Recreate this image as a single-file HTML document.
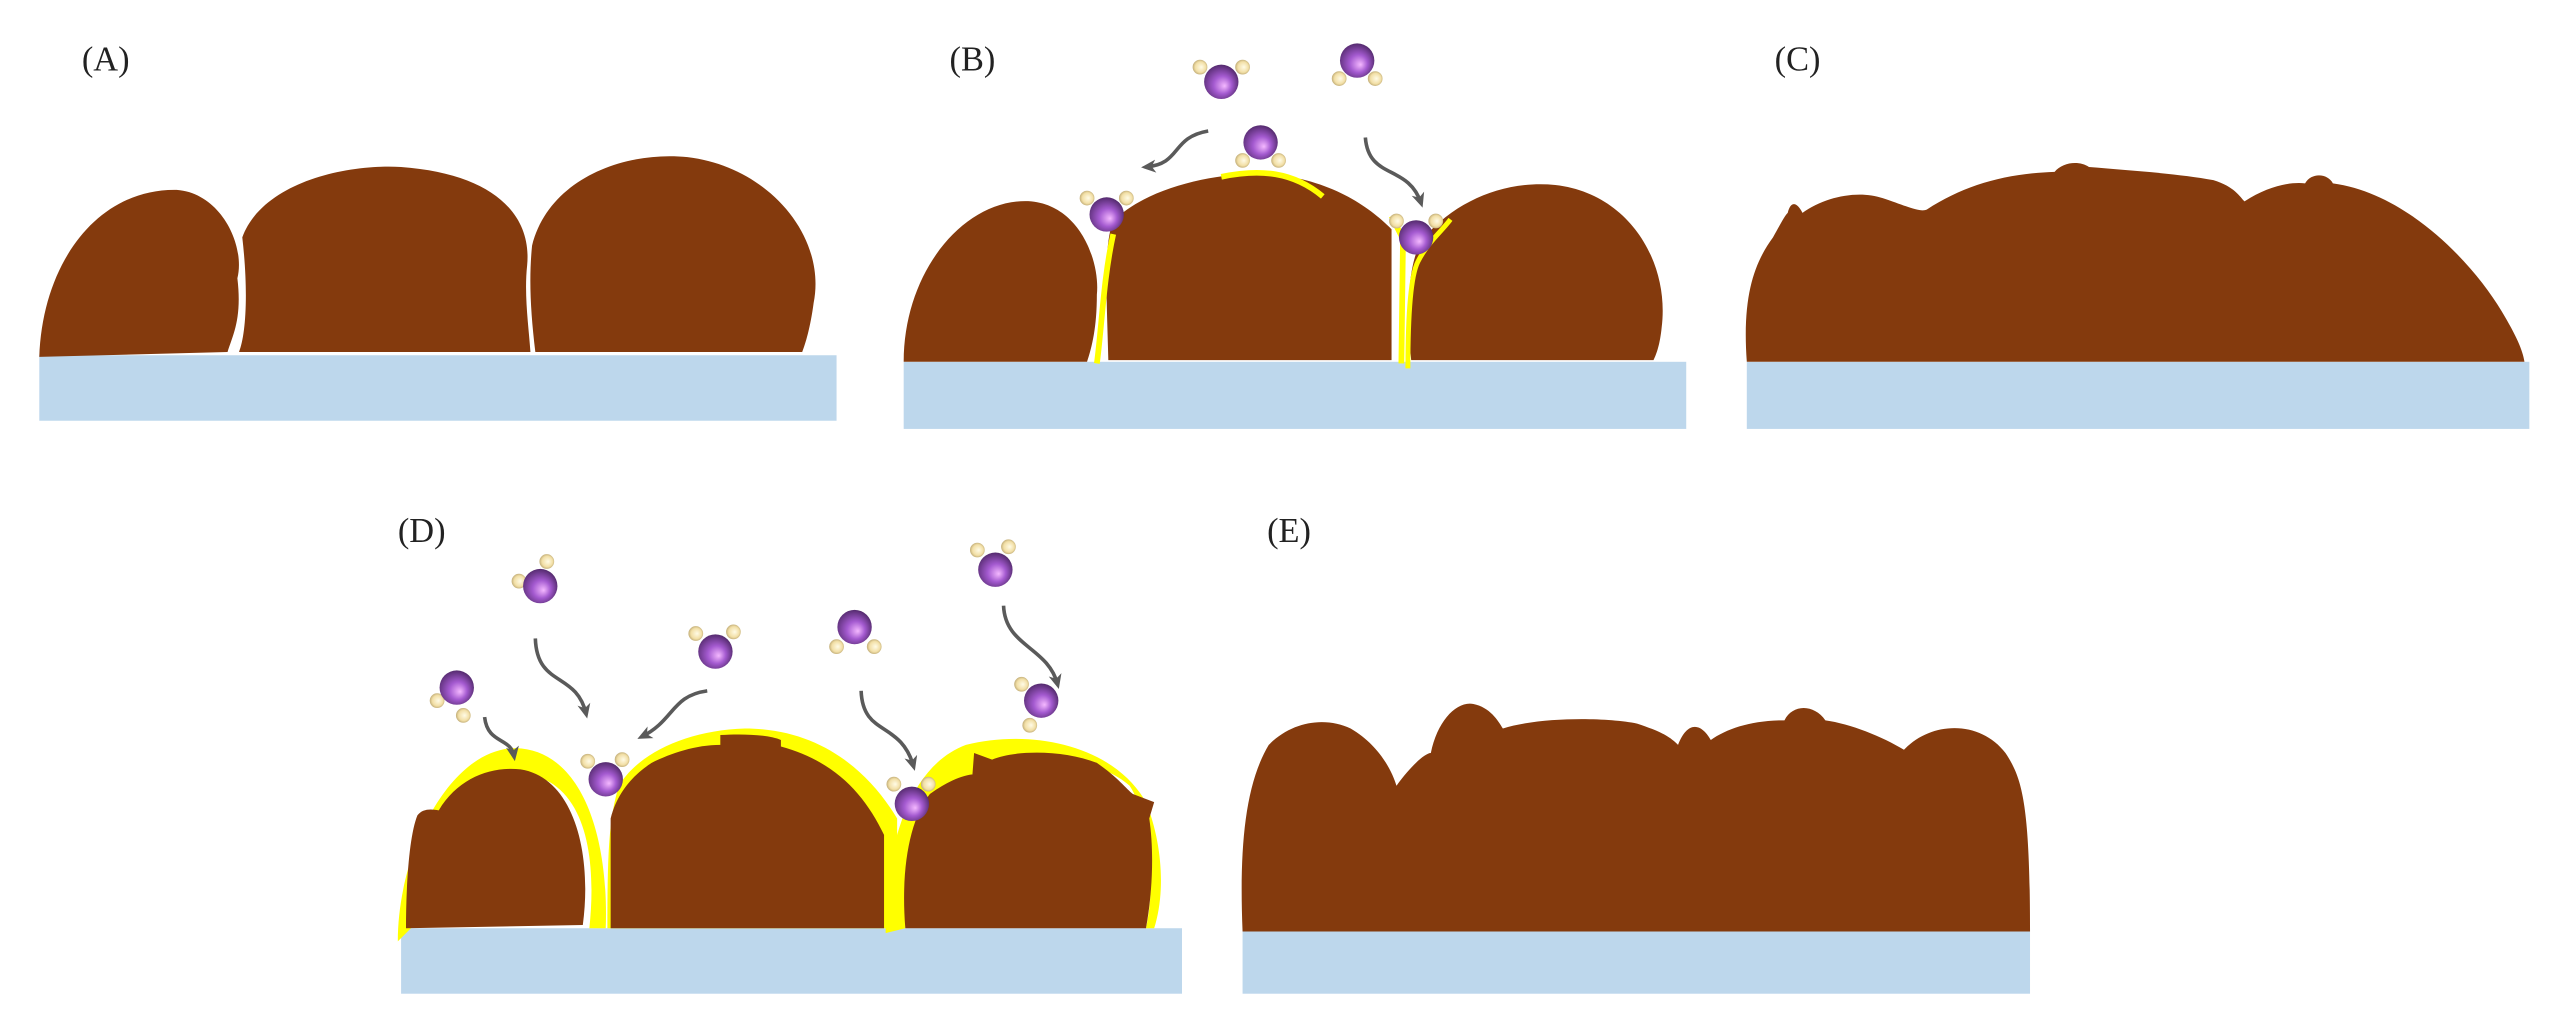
<!DOCTYPE html>
<html><head><meta charset="utf-8"><style>
html,body{margin:0;padding:0;background:#fff;}
svg{display:block;}
text{font-family:"Liberation Serif",serif;font-size:21px;fill:#222;}
</style></head><body>
<svg width="2567" height="1024" viewBox="0 0 1568 625.5" preserveAspectRatio="none" xmlns="http://www.w3.org/2000/svg">
<defs>
<radialGradient id="pu" cx="0.45" cy="0.55" r="0.65" fx="0.6" fy="0.62">
<stop offset="0" stop-color="#f4b8ff"/><stop offset="0.4" stop-color="#a45ad0"/><stop offset="1" stop-color="#3c1c50"/></radialGradient>
<radialGradient id="hy" cx="0.5" cy="0.5" r="0.6" fx="0.6" fy="0.5">
<stop offset="0" stop-color="#fffbe6"/><stop offset="0.6" stop-color="#f2dfa6"/><stop offset="1" stop-color="#a89360"/></radialGradient>
<marker id="ah" markerWidth="10" markerHeight="10" refX="6" refY="5" orient="auto" markerUnits="userSpaceOnUse">
<path d="M0,1 L9,5 L0,9 L2.5,5 Z" fill="#5a5a5a"/></marker>
</defs>
<g fill="#843a0d">
<!-- A -->
<rect x="24" y="217" width="487" height="40" fill="#bdd7ec"/>
<path d="M24,218 C26,160 60,115 108,116 C135,118 150,150 145,170 C148,195 142,205 139,215 Z"/>
<path d="M146,215 C150,205 152,180 148,145 C160,112 210,100 245,102 C300,106 325,130 322,162 C320,180 323,200 324,215 Z"/>
<path d="M327,215 C324,190 323,170 325,150 C335,110 380,92 420,96 C470,102 505,145 497,185 C495,200 492,210 490,215 Z"/>
<!-- B -->
<rect x="552" y="221" width="478" height="41" fill="#bdd7ec"/>
<path d="M552,221 C552,165 590,120 630,123 C660,126 672,160 670,180 C670,200 667,212 664,221 Z"/>
<path d="M677,220 C676,180 674,150 680,135 C700,115 740,106 770,106 C810,108 835,125 850,140 L850,220 Z"/>
<path d="M862,220 C858,180 862,155 870,145 C890,122 920,110 950,113 C995,118 1020,160 1015,200 C1014,210 1012,216 1010,220 Z"/>
<!-- C -->
<rect x="1067" y="221" width="478" height="41" fill="#bdd7ec"/>
<path d="M1067,221 C1064,180 1072,160 1083,145 C1088,136 1090,132 1092,130 C1094,122 1098,124 1101,130 C1115,120 1135,116 1150,121 C1165,126 1173,130 1177,128 C1200,113 1225,106 1255,105 C1260,99 1270,98 1276,102 C1300,104 1330,106 1352,110 C1365,114 1368,120 1371,123 C1385,114 1398,111 1408,112 C1412,105 1422,106 1425,112 C1470,118 1510,160 1528,190 C1537,205 1541,214 1542,221 Z"/>
<!-- D -->
<rect x="245" y="567" width="477" height="40" fill="#bdd7ec"/>
<path d="M243,575 C243,520 275,457 315,457 C355,458 372,510 370,567 L360,567 C365,520 357,470 310,472 C285,475 265,510 258,560 Z" fill="#ffff00"/>
<path d="M371,567 C371,520 372,500 378,480 C390,460 420,446 455,445 C500,445 530,470 548,500 L548,567 Z" fill="#ffff00"/>
<path d="M541,570 C540,530 550,470 590,455 C630,445 680,455 700,490 C710,515 712,545 705,567 L700,567 C706,540 703,500 690,480 C670,462 630,460 600,470 C565,485 553,525 553,567 Z" fill="#ffff00"/>
<path d="M248,567 C248,540 250,510 255,498 C258,494 263,494 268,495 C280,475 300,468 318,470 C350,475 362,520 356,565 Z"/>
<path d="M373,567 L373,500 C378,480 392,470 398,466 C410,460 425,455 440,455 L440,449 C455,448 470,449 477,452 L477,456 C510,465 528,485 540,510 L540,567 Z"/>
<path d="M553,567 C550,530 556,500 568,485 C575,480 585,474 594,473 L595,460 L606,464 C620,458 650,458 670,466 C683,475 688,482 692,485 L705,490 L702,500 C705,520 704,545 700,567 Z"/>
<!-- E -->
<rect x="759" y="569" width="481" height="38" fill="#bdd7ec"/>
<path d="M759,569 C757,520 760,480 775,455 C790,440 810,438 825,445 C842,455 850,470 853,480 C860,470 870,460 874,460 C878,440 890,428 900,430 C910,432 915,440 918,445 C940,438 980,438 1000,442 C1015,447 1020,450 1025,455 C1030,442 1038,440 1045,452 C1055,445 1070,440 1090,440 C1095,430 1108,430 1115,440 C1130,442 1150,450 1163,458 C1180,440 1210,440 1225,460 C1235,475 1240,490 1240,569 Z"/>
</g>
<!-- yellow in B -->
<g fill="none" stroke="#ffff00" stroke-width="3.5" stroke-linecap="butt">
<path d="M680,143 C674,170 673,200 670,222"/>
<path d="M746,108 C770,103 790,105 808,120"/>
<path d="M850,132 L857,146 L856,222"/>
<path d="M860,225 C860,200 861,170 866,160 C872,148 880,142 886,134" stroke-width="3"/>
</g>
<!-- arrows -->
<g fill="none" stroke="#5a5a5a" stroke-width="2.2" marker-end="url(#ah)">
<path d="M738,80 C715,84 722,100 700,102"/>
<path d="M834,84 C836,110 860,100 868,124"/>
<path d="M327,390 C328,420 352,410 358,436"/>
<path d="M432,422 C410,425 412,440 392,450"/>
<path d="M296,438 C298,455 312,450 314,462"/>
<path d="M526,422 C527,450 550,440 558,468"/>
<path d="M613,370 C614,395 640,395 646,418"/>
</g>
<!-- molecules -->
<g>
<g transform="translate(746,50)"><circle cx="-13" cy="-9" r="4.5" fill="url(#hy)"/><circle cx="13" cy="-9" r="4.5" fill="url(#hy)"/><circle r="10.5" fill="url(#pu)"/></g>
<g transform="translate(829,37)"><circle cx="-11" cy="11" r="4.5" fill="url(#hy)"/><circle cx="11" cy="11" r="4.5" fill="url(#hy)"/><circle r="10.5" fill="url(#pu)"/></g>
<g transform="translate(770,87)"><circle cx="-11" cy="11" r="4.5" fill="url(#hy)"/><circle cx="11" cy="11" r="4.5" fill="url(#hy)"/><circle r="10.5" fill="url(#pu)"/></g>
<g transform="translate(676,131)"><circle cx="-12" cy="-10" r="4.5" fill="url(#hy)"/><circle cx="12" cy="-10" r="4.5" fill="url(#hy)"/><circle r="10.5" fill="url(#pu)"/></g>
<g transform="translate(865,145)"><circle cx="-12" cy="-10" r="4.5" fill="url(#hy)"/><circle cx="12" cy="-10" r="4.5" fill="url(#hy)"/><circle r="10.5" fill="url(#pu)"/></g>
<g transform="translate(330,358)"><circle cx="-13" cy="-3" r="4.5" fill="url(#hy)"/><circle cx="4" cy="-15" r="4.5" fill="url(#hy)"/><circle r="10.5" fill="url(#pu)"/></g>
<g transform="translate(437,398)"><circle cx="-12" cy="-11" r="4.5" fill="url(#hy)"/><circle cx="11" cy="-12" r="4.5" fill="url(#hy)"/><circle r="10.5" fill="url(#pu)"/></g>
<g transform="translate(279,420)"><circle cx="-12" cy="8" r="4.5" fill="url(#hy)"/><circle cx="4" cy="17" r="4.5" fill="url(#hy)"/><circle r="10.5" fill="url(#pu)"/></g>
<g transform="translate(522,383)"><circle cx="-11" cy="12" r="4.5" fill="url(#hy)"/><circle cx="12" cy="12" r="4.5" fill="url(#hy)"/><circle r="10.5" fill="url(#pu)"/></g>
<g transform="translate(608,348)"><circle cx="-11" cy="-12" r="4.5" fill="url(#hy)"/><circle cx="8" cy="-14" r="4.5" fill="url(#hy)"/><circle r="10.5" fill="url(#pu)"/></g>
<g transform="translate(636,428)"><circle cx="-12" cy="-10" r="4.5" fill="url(#hy)"/><circle cx="-7" cy="15" r="4.5" fill="url(#hy)"/><circle r="10.5" fill="url(#pu)"/></g>
<g transform="translate(370,476)"><circle cx="-11" cy="-11" r="4.5" fill="url(#hy)"/><circle cx="10" cy="-12" r="4.5" fill="url(#hy)"/><circle r="10.5" fill="url(#pu)"/></g>
<g transform="translate(557,491)"><circle cx="-11" cy="-12" r="4.5" fill="url(#hy)"/><circle cx="10" cy="-12" r="4.5" fill="url(#hy)"/><circle r="10.5" fill="url(#pu)"/></g>
</g>
<text x="50" y="43">(A)</text>
<text x="580" y="43">(B)</text>
<text x="1084" y="43">(C)</text>
<text x="243" y="331">(D)</text>
<text x="774" y="331">(E)</text>
</svg>
</body></html>
